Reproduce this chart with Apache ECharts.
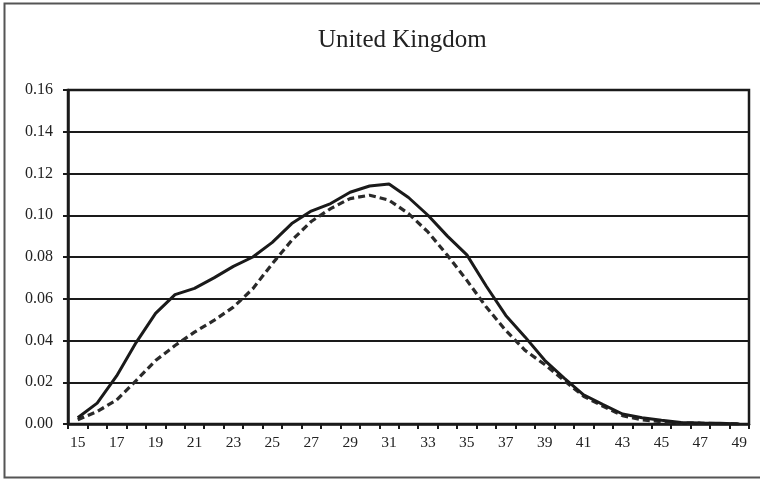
<!DOCTYPE html>
<html>
<head>
<meta charset="utf-8">
<script src="https://cdn.jsdelivr.net/npm/echarts@6/dist/echarts.min.js"></script>
<style>
html,body{margin:0;padding:0;background:#fff;}
#c{width:760px;height:479px;}
</style>
</head>
<body>
<div id="c"></div>
<script>
var titleText = 'United Kingdom';
var ages = [15,16,17,18,19,20,21,22,23,24,25,26,27,28,29,30,31,32,33,34,35,36,37,38,39,40,41,42,43,44,45,46,47,48,49];
var solidValues = [0.003,0.010,0.023,0.039,0.053,0.062,0.065,0.070,0.0755,0.080,0.087,0.096,0.102,0.1056,0.111,0.114,0.115,0.1085,0.100,0.090,0.081,0.066,0.052,0.0416,0.0305,0.022,0.014,0.0093,0.0048,0.003,0.0018,0.0007,0.0005,0.0004,0.0];
var dashedValues = [0.002,0.006,0.0115,0.0208,0.0304,0.0376,0.044,0.0496,0.056,0.0648,0.0768,0.088,0.097,0.1032,0.108,0.1096,0.1072,0.1008,0.092,0.0808,0.0688,0.056,0.0448,0.0352,0.0285,0.0208,0.0133,0.0085,0.004,0.002,0.0011,0.0005,0.0004,0.0002,0.0];
var yMin = 0, yMax = 0.16, yStep = 0.02;

var chart = echarts.init(document.getElementById('c'), null, {renderer:'canvas'});
var font = 'Liberation Serif';
chart.setOption({
  animation:false,
  backgroundColor:'#fff',
  title:{
    text:titleText,
    left:313, top:23,
    textStyle:{fontFamily:font,fontSize:25,fontWeight:'normal',color:'#222'}
  },
  graphic:[{
    type:'rect', silent:true, z:-1,
    shape:{x:4.5,y:3.5,width:760,height:474},
    style:{fill:null,stroke:'#555',lineWidth:2}
  }],
  grid:{left:68,right:11,top:90,bottom:55,show:true,borderColor:'#1a1a1a',borderWidth:2.5,backgroundColor:'transparent'},
  xAxis:{
    type:'category', data:ages, boundaryGap:true,
    axisLine:{lineStyle:{color:'#1a1a1a',width:2.5}},
    axisTick:{show:true,interval:0,length:5,lineStyle:{color:'#1a1a1a',width:2}},
    axisLabel:{interval:1,margin:11,fontFamily:font,fontSize:15.5,color:'#222'},
    splitLine:{show:false}
  },
  yAxis:{
    type:'value', min:yMin, max:yMax, interval:yStep,
    axisLine:{show:true,lineStyle:{color:'#1a1a1a',width:2.5}},
    axisTick:{show:true,length:5,lineStyle:{color:'#1a1a1a',width:2}},
    axisLabel:{margin:15,fontFamily:font,fontSize:16,color:'#222',formatter:function(v){return v.toFixed(2);}},
    splitLine:{show:true,lineStyle:{color:'#1a1a1a',width:2}}
  },
  series:[
    {type:'line',data:solidValues,symbol:'none',smooth:false,z:3,
     lineStyle:{color:'#1a1a1a',width:3,type:'solid'}},
    {type:'line',data:dashedValues,symbol:'none',smooth:false,z:2,
     lineStyle:{color:'#2a2a2a',width:3.2,type:[7,4]}}
  ]
});
</script>
</body>
</html>
